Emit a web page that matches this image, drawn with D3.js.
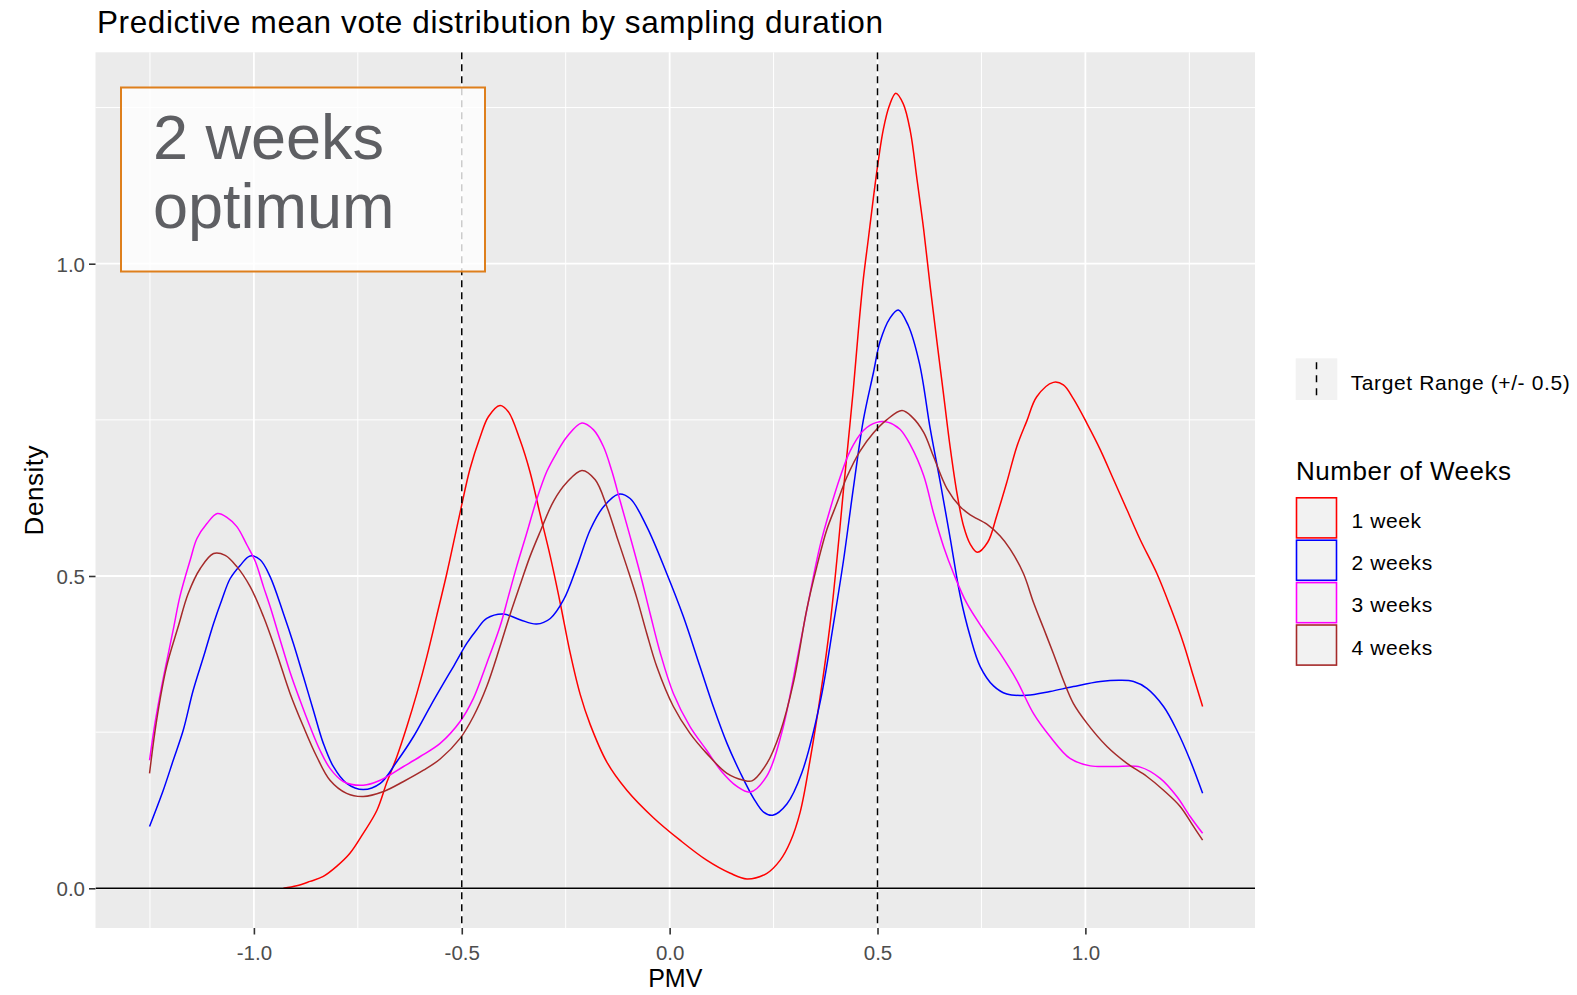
<!DOCTYPE html>
<html>
<head>
<meta charset="utf-8">
<script src="https://cdn.jsdelivr.net/npm/d3@7/dist/d3.min.js"></script>
<style>
  html, body { margin: 0; padding: 0; background: #ffffff; }
  svg { display: block; font-family: "Liberation Sans", Arial, sans-serif; }
</style>
</head>
<body>
<svg id="chart" width="1577" height="995"></svg>
<script>
// ---------------- DATA ----------------
const chartTitle = "Predictive mean vote distribution by sampling duration";
const xTitle = "PMV";
const yTitle = "Density";
const xTicks = [-1.0, -0.5, 0.0, 0.5, 1.0];
const xMinor = [-1.25, -0.75, -0.25, 0.25, 0.75, 1.25];
const yTicks = [0.0, 0.5, 1.0];
const yMinor = [0.25, 0.75, 1.25];
const targetLines = [-0.5, 0.5];
const targetLabel = "Target Range (+/- 0.5)";
const legendTitle = "Number of Weeks";
const seriesNames = ["1 week", "2 weeks", "3 weeks", "4 weeks"];
const annotationLines = ["2 weeks", "optimum"];

// [PMV, density]
const week1 = [[-0.929,0.0],[-0.897,0.004],[-0.865,0.011],[-0.833,0.019],[-0.801,0.035],[-0.769,0.056],[-0.737,0.088],[-0.704,0.125],[-0.680,0.170],[-0.656,0.211],[-0.632,0.259],[-0.608,0.312],[-0.584,0.371],[-0.560,0.437],[-0.536,0.504],[-0.516,0.565],[-0.502,0.608],[-0.480,0.672],[-0.456,0.722],[-0.436,0.755],[-0.408,0.773],[-0.388,0.763],[-0.360,0.718],[-0.336,0.667],[-0.312,0.600],[-0.287,0.531],[-0.263,0.456],[-0.239,0.376],[-0.215,0.310],[-0.191,0.262],[-0.151,0.202],[-0.103,0.157],[-0.039,0.113],[0.025,0.077],[0.089,0.045],[0.146,0.024],[0.186,0.015],[0.234,0.024],[0.266,0.045],[0.290,0.074],[0.314,0.122],[0.338,0.206],[0.362,0.306],[0.386,0.423],[0.402,0.524],[0.418,0.637],[0.430,0.718],[0.442,0.800],[0.454,0.893],[0.466,0.976],[0.478,1.040],[0.490,1.105],[0.502,1.165],[0.514,1.215],[0.528,1.252],[0.544,1.273],[0.562,1.256],[0.579,1.212],[0.595,1.135],[0.611,1.055],[0.627,0.962],[0.643,0.875],[0.659,0.790],[0.675,0.705],[0.691,0.633],[0.707,0.580],[0.723,0.551],[0.740,0.538],[0.765,0.554],[0.787,0.597],[0.811,0.650],[0.835,0.707],[0.859,0.748],[0.883,0.787],[0.923,0.810],[0.947,0.806],[0.971,0.784],[1.004,0.744],[1.036,0.702],[1.068,0.654],[1.100,0.606],[1.132,0.558],[1.172,0.504],[1.204,0.451],[1.236,0.392],[1.260,0.339],[1.282,0.291]];

const week2 = [[-1.251,0.099],[-1.218,0.157],[-1.194,0.205],[-1.170,0.253],[-1.146,0.317],[-1.121,0.371],[-1.097,0.424],[-1.077,0.462],[-1.057,0.496],[-1.033,0.517],[-1.009,0.532],[-0.985,0.526],[-0.961,0.499],[-0.929,0.440],[-0.905,0.392],[-0.881,0.339],[-0.857,0.285],[-0.833,0.232],[-0.809,0.195],[-0.777,0.168],[-0.737,0.158],[-0.696,0.168],[-0.656,0.203],[-0.616,0.243],[-0.576,0.291],[-0.544,0.328],[-0.520,0.355],[-0.488,0.392],[-0.464,0.414],[-0.440,0.432],[-0.400,0.439],[-0.360,0.430],[-0.320,0.423],[-0.287,0.432],[-0.255,0.462],[-0.223,0.515],[-0.191,0.574],[-0.159,0.611],[-0.123,0.631],[-0.095,0.624],[-0.055,0.579],[-0.007,0.504],[0.033,0.435],[0.073,0.355],[0.105,0.291],[0.138,0.232],[0.170,0.185],[0.202,0.144],[0.226,0.122],[0.248,0.117],[0.282,0.135],[0.318,0.185],[0.362,0.298],[0.394,0.423],[0.418,0.524],[0.442,0.641],[0.466,0.750],[0.490,0.825],[0.506,0.875],[0.530,0.913],[0.550,0.926],[0.574,0.901],[0.601,0.840],[0.627,0.735],[0.651,0.650],[0.675,0.560],[0.699,0.468],[0.723,0.403],[0.747,0.355],[0.779,0.324],[0.811,0.311],[0.859,0.309],[0.915,0.315],[0.971,0.323],[1.036,0.331],[1.084,0.333],[1.116,0.331],[1.148,0.320],[1.188,0.291],[1.220,0.253],[1.252,0.205],[1.282,0.152]];

const week3 = [[-1.251,0.205],[-1.238,0.264],[-1.222,0.323],[-1.194,0.414],[-1.178,0.467],[-1.153,0.526],[-1.137,0.560],[-1.113,0.584],[-1.088,0.600],[-1.065,0.594],[-1.041,0.579],[-1.017,0.550],[-0.997,0.524],[-0.977,0.483],[-0.961,0.451],[-0.937,0.398],[-0.913,0.346],[-0.889,0.301],[-0.865,0.259],[-0.841,0.221],[-0.817,0.192],[-0.785,0.171],[-0.737,0.165],[-0.696,0.173],[-0.640,0.195],[-0.600,0.211],[-0.552,0.232],[-0.504,0.267],[-0.472,0.304],[-0.440,0.360],[-0.408,0.419],[-0.388,0.467],[-0.368,0.515],[-0.344,0.568],[-0.320,0.622],[-0.295,0.668],[-0.271,0.698],[-0.247,0.723],[-0.211,0.745],[-0.183,0.734],[-0.159,0.707],[-0.139,0.668],[-0.119,0.620],[-0.095,0.563],[-0.071,0.504],[-0.047,0.440],[-0.023,0.378],[0.009,0.312],[0.049,0.259],[0.089,0.221],[0.125,0.187],[0.162,0.163],[0.194,0.154],[0.234,0.180],[0.270,0.250],[0.306,0.365],[0.338,0.473],[0.362,0.549],[0.386,0.607],[0.410,0.658],[0.434,0.700],[0.466,0.733],[0.498,0.746],[0.526,0.746],[0.554,0.735],[0.579,0.710],[0.611,0.661],[0.635,0.600],[0.659,0.547],[0.683,0.504],[0.715,0.456],[0.755,0.414],[0.795,0.376],[0.835,0.333],[0.875,0.280],[0.915,0.243],[0.963,0.208],[1.012,0.196],[1.068,0.195],[1.132,0.194],[1.180,0.176],[1.220,0.147],[1.252,0.115],[1.282,0.088]];

const week4 = [[-1.251,0.184],[-1.234,0.269],[-1.210,0.355],[-1.182,0.419],[-1.158,0.472],[-1.129,0.512],[-1.097,0.536],[-1.069,0.533],[-1.041,0.515],[-1.009,0.483],[-0.977,0.435],[-0.945,0.376],[-0.913,0.312],[-0.881,0.259],[-0.849,0.211],[-0.817,0.173],[-0.777,0.152],[-0.737,0.147],[-0.688,0.155],[-0.640,0.171],[-0.592,0.189],[-0.552,0.207],[-0.504,0.240],[-0.472,0.275],[-0.440,0.323],[-0.408,0.387],[-0.384,0.438],[-0.360,0.485],[-0.336,0.531],[-0.312,0.570],[-0.279,0.620],[-0.247,0.650],[-0.211,0.669],[-0.179,0.654],[-0.151,0.611],[-0.127,0.563],[-0.103,0.515],[-0.079,0.465],[-0.055,0.408],[-0.031,0.355],[0.009,0.291],[0.049,0.248],[0.089,0.216],[0.138,0.184],[0.178,0.173],[0.198,0.172],[0.234,0.200],[0.266,0.250],[0.298,0.330],[0.330,0.447],[0.354,0.515],[0.378,0.574],[0.402,0.616],[0.426,0.658],[0.458,0.700],[0.490,0.729],[0.522,0.750],[0.559,0.765],[0.584,0.754],[0.611,0.730],[0.635,0.691],[0.667,0.640],[0.699,0.611],[0.723,0.598],[0.763,0.583],[0.795,0.564],[0.819,0.543],[0.851,0.504],[0.875,0.458],[0.899,0.417],[0.923,0.376],[0.947,0.333],[0.971,0.296],[1.004,0.264],[1.052,0.227],[1.100,0.200],[1.148,0.179],[1.188,0.157],[1.228,0.131],[1.260,0.099],[1.282,0.077]];

const seriesData = [week1, week2, week3, week4];

// ---------------- STYLE / LAYOUT ----------------
const seriesColors = ["#FF0000", "#0000FF", "#FF00FF", "#A52A2A"];
const panel = { left: 95.5, right: 1255, top: 52.3, bottom: 928 };
const xDomain = [-1.381, 1.408];
const yDomain = [-0.0636, 1.3385];

const svg = d3.select("#chart");
svg.append("rect").attr("width", 1577).attr("height", 995).attr("fill", "#ffffff");

const x = d3.scaleLinear().domain(xDomain).range([panel.left, panel.right]);
const y = d3.scaleLinear().domain(yDomain).range([panel.bottom, panel.top]);

// fit helper: letter-spacing so that text reaches target width
function fitWidth(sel, target) {
  const node = sel.node();
  const n = sel.text().length;
  const len = node.getComputedTextLength();
  if (n > 1) sel.attr("letter-spacing", ((target - len) / (n - 1)).toFixed(3));
}

// Panel background
svg.append("rect")
  .attr("x", panel.left).attr("y", panel.top)
  .attr("width", panel.right - panel.left).attr("height", panel.bottom - panel.top)
  .attr("fill", "#EBEBEB");

const grid = svg.append("g");
grid.selectAll(".xminor").data(xMinor).join("line")
  .attr("x1", d => x(d)).attr("x2", d => x(d))
  .attr("y1", panel.top).attr("y2", panel.bottom)
  .attr("stroke", "#ffffff").attr("stroke-width", 1);
grid.selectAll(".yminor").data(yMinor).join("line")
  .attr("y1", d => y(d)).attr("y2", d => y(d))
  .attr("x1", panel.left).attr("x2", panel.right)
  .attr("stroke", "#ffffff").attr("stroke-width", 1);
grid.selectAll(".xmajor").data(xTicks).join("line")
  .attr("x1", d => x(d)).attr("x2", d => x(d))
  .attr("y1", panel.top).attr("y2", panel.bottom)
  .attr("stroke", "#ffffff").attr("stroke-width", 1.8);
grid.selectAll(".ymajor").data(yTicks).join("line")
  .attr("y1", d => y(d)).attr("y2", d => y(d))
  .attr("x1", panel.left).attr("x2", panel.right)
  .attr("stroke", "#ffffff").attr("stroke-width", 1.8);

// clip
svg.append("clipPath").attr("id", "clip").append("rect")
  .attr("x", panel.left).attr("y", panel.top)
  .attr("width", panel.right - panel.left).attr("height", panel.bottom - panel.top);

const plot = svg.append("g").attr("clip-path", "url(#clip)");

const line = d3.line()
  .x(d => x(d[0])).y(d => y(d[1]))
  .curve(d3.curveCatmullRom.alpha(0.5));

plot.selectAll(".series").data(seriesData).join("path")
  .attr("d", d => line(d))
  .attr("fill", "none")
  .attr("stroke", (d, i) => seriesColors[i])
  .attr("stroke-width", 1.5)
  .attr("stroke-linejoin", "round");

// target dashed lines
plot.selectAll(".target").data(targetLines).join("line")
  .attr("x1", d => x(d)).attr("x2", d => x(d))
  .attr("y1", panel.top).attr("y2", panel.bottom)
  .attr("stroke", "#000000").attr("stroke-width", 1.5)
  .attr("stroke-dasharray", "7,5");

// zero line
plot.append("line")
  .attr("x1", panel.left).attr("x2", panel.right)
  .attr("y1", y(0)).attr("y2", y(0))
  .attr("stroke", "#000000").attr("stroke-width", 1.6);

// Axes
const fmt = d => d.toFixed(1);
const xAxis = svg.append("g")
  .attr("transform", `translate(0,${panel.bottom})`)
  .call(d3.axisBottom(x).tickValues(xTicks).tickFormat(fmt).tickSize(6.5).tickPadding(4));
const yAxis = svg.append("g")
  .attr("transform", `translate(${panel.left},0)`)
  .call(d3.axisLeft(y).tickValues(yTicks).tickFormat(fmt).tickSize(6.5).tickPadding(4));
[xAxis, yAxis].forEach(a => {
  a.select(".domain").remove();
  a.selectAll(".tick line").attr("stroke", "#333333").attr("stroke-width", 1.6);
  a.selectAll(".tick text")
    .attr("fill", "#4D4D4D")
    .style("font-family", "'Liberation Sans', Arial, sans-serif")
    .style("font-size", "20.5px");
});
xAxis.selectAll(".tick text").attr("dy", null).attr("y", 32);
yAxis.selectAll(".tick text").attr("dy", "0.36em");

// Axis titles
const xt = svg.append("text")
  .attr("x", (panel.left + panel.right) / 2).attr("y", 987)
  .attr("text-anchor", "middle").attr("fill", "#000000")
  .style("font-size", "25px").text(xTitle);
const yt = svg.append("text")
  .attr("transform", `translate(42.7,${(panel.top + panel.bottom) / 2}) rotate(-90)`)
  .attr("text-anchor", "middle").attr("fill", "#000000")
  .style("font-size", "26px").text(yTitle);
fitWidth(yt, 90);

// Title
const title = svg.append("text")
  .attr("x", 97).attr("y", 33.3)
  .attr("fill", "#000000")
  .style("font-size", "31.5px").text(chartTitle);
fitWidth(title, 786);

// Annotation box
const box = svg.append("g");
box.append("rect")
  .attr("x", 121).attr("y", 87.5).attr("width", 364).attr("height", 184)
  .attr("fill", "#ffffff").attr("fill-opacity", 0.8)
  .attr("stroke", "#DE7F1C").attr("stroke-width", 2);
box.selectAll(".ann").data(annotationLines).join("text")
  .attr("x", 153).attr("y", (d, i) => 159 + i * 69)
  .attr("fill", "#5E5F63")
  .style("font-size", "63px")
  .text(d => d);

// Legend
const leg = svg.append("g");
const keyX = 1295.7, keyW = 41.6, keyH = 41.7;
leg.append("rect")
  .attr("x", keyX).attr("y", 358.3).attr("width", keyW).attr("height", keyH)
  .attr("fill", "#F2F2F2");
leg.append("line")
  .attr("x1", keyX + keyW / 2).attr("x2", keyX + keyW / 2)
  .attr("y1", 358.3).attr("y2", 358.3 + keyH)
  .attr("stroke", "#000000").attr("stroke-width", 1.5)
  .attr("stroke-dasharray", "7,6").attr("stroke-dashoffset", -4);
const tl = leg.append("text")
  .attr("x", 1350.7).attr("y", 390)
  .attr("fill", "#000000").style("font-size", "21px").text(targetLabel);
fitWidth(tl, 219);

const lt = leg.append("text")
  .attr("x", 1296).attr("y", 480)
  .attr("fill", "#000000").style("font-size", "26px").text(legendTitle);
fitWidth(lt, 215);

const keyTops = seriesNames.map((d, i) => 497 + i * 42.4);
leg.selectAll(".key").data(seriesNames).join("rect")
  .attr("x", keyX + 0.8).attr("y", (d, i) => keyTops[i] + 0.8)
  .attr("width", keyW - 1.6).attr("height", keyH - 1.6)
  .attr("fill", "#F2F2F2")
  .attr("stroke", (d, i) => seriesColors[i]).attr("stroke-width", 1.6);
leg.selectAll(".klabel").data(seriesNames).join("text")
  .attr("x", 1351.5).attr("y", (d, i) => keyTops[i] + 30.5)
  .attr("fill", "#000000").style("font-size", "21px")
  .attr("letter-spacing", 0.6)
  .text(d => d);
</script>
</body>
</html>
